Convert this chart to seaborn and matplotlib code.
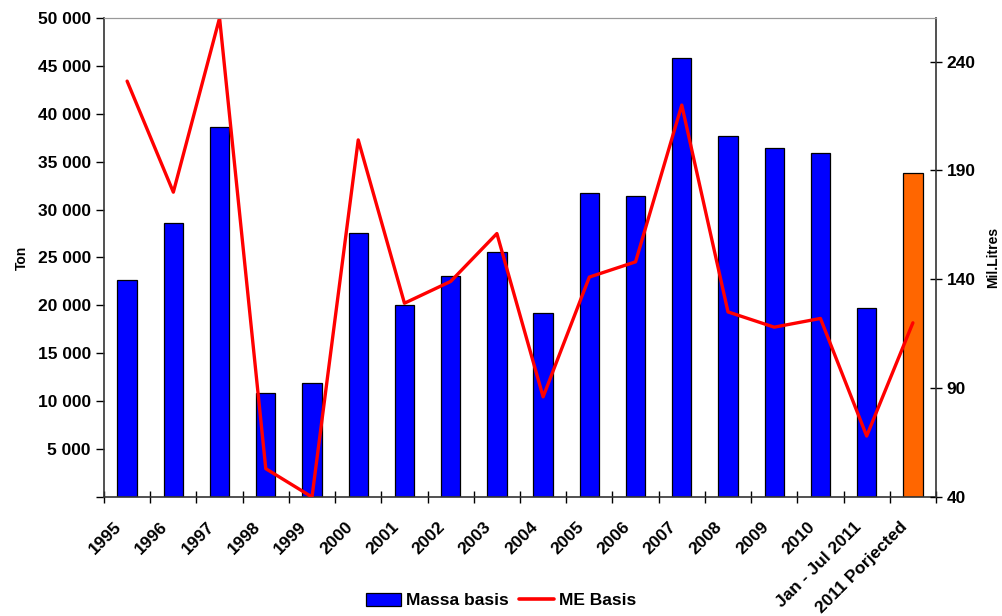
import matplotlib
matplotlib.use("Agg")
import matplotlib.pyplot as plt
import matplotlib.transforms as mtrans
import seaborn as sns
import pandas as pd
import numpy as np
from matplotlib.ticker import FuncFormatter, FixedLocator
from matplotlib.patches import Patch
from matplotlib.lines import Line2D

categories = ["1995", "1996", "1997", "1998", "1999", "2000", "2001", "2002", "2003",
              "2004", "2005", "2006", "2007", "2008", "2009", "2010",
              "Jan - Jul 2011", "2011 Porjected"]
massa_basis = [22600, 28600, 38600, 10900, 11850, 27550, 20000, 23100, 25600,
               19200, 31700, 31400, 45800, 37700, 36400, 35900, 19750, 33800]
me_basis = [231, 180, 260, 53, 40, 204, 129, 139, 161,
            86, 141, 148, 220, 125, 118, 122, 68, 120]
left_ticks = [0, 5000, 10000, 15000, 20000, 25000, 30000, 35000, 40000, 45000, 50000]
right_ticks = [40, 90, 140, 190, 240]

sns.set_style("white")
plt.rcParams['font.family'] = ['Liberation Sans', 'DejaVu Sans']
plt.rcParams['font.weight'] = 'bold'
for k in ["text.color", "axes.labelcolor", "xtick.color", "ytick.color"]:
    plt.rcParams[k] = "black"

fig = plt.figure(figsize=(10.03, 6.16), dpi=100)
ax = fig.add_axes([0.1037, 0.1932, 0.8295, 0.7776])

df = pd.DataFrame({"cat": categories, "val": massa_basis})
colors = ["#0000FF"] * (len(categories) - 1) + ["#FF6600"]
sns.barplot(data=df, x="cat", y="val", hue="cat", palette=colors, legend=False,
            width=0.42, edgecolor="black", linewidth=0.9, ax=ax, saturation=1)

ax.set_xlim(-0.5, len(categories) - 0.5)
ax.set_ylim(0, 50000)
ax.set_yticks(left_ticks)
ax.yaxis.set_major_formatter(FuncFormatter(lambda v, p: "" if v == 0 else f"{int(v):,}".replace(",", " ")))
ax.tick_params(axis="y", direction="out", length=6, width=1, labelsize=12.5, colors="black", left=True)
ax.set_ylabel("Ton", fontsize=10, fontweight="bold", labelpad=6)
ax.set_xlabel("")

ax.set_xticks(range(len(categories)))
ax.set_xticklabels(categories, rotation=45, ha="right", va="center", rotation_mode="anchor",
                   fontsize=12.5, fontweight="bold")
ax.tick_params(axis="x", which="major", length=0, pad=20, bottom=True)
ax.xaxis.set_minor_locator(FixedLocator(np.arange(-0.5, len(categories), 1.0)))
ax.tick_params(axis="x", which="minor", direction="inout", length=8, width=1, bottom=True)
offset = mtrans.ScaledTranslation(-0.08, 0.0, fig.dpi_scale_trans)
for lbl in ax.get_xticklabels():
    lbl.set_transform(lbl.get_transform() + offset)

for s in ["left", "bottom"]:
    ax.spines[s].set_color("#333333")
    ax.spines[s].set_linewidth(1.2)
ax.spines["top"].set_color("#999999")
ax.spines["right"].set_visible(False)

ax2 = ax.twinx()
sns.lineplot(x=np.arange(len(categories)), y=me_basis, ax=ax2, color="#FF0000", linewidth=2.4)
ax2.set_ylim(40, 260)
ax2.set_yticks(right_ticks)
ax2.tick_params(axis="y", direction="inout", length=8, width=1, labelsize=12.5, right=True)
ax2.set_ylabel("Mil.Litres", fontsize=10, fontweight="bold", labelpad=8)
ax2.spines["right"].set_color("#333333")
ax2.spines["right"].set_linewidth(1.2)
ax2.spines["top"].set_color("#999999")
ax2.spines["left"].set_visible(False)
ax2.spines["bottom"].set_visible(False)
ax2.set_xlim(-0.5, len(categories) - 0.5)

handles = [Patch(facecolor="#0000FF", edgecolor="black", linewidth=0.9, label="Massa basis"),
           Line2D([0], [0], color="#FF0000", linewidth=2.6, label="ME Basis")]
fig.legend(handles=handles, loc="center", bbox_to_anchor=(0.5, 0.025), ncol=2, frameon=False,
           handlelength=2.0, handleheight=0.75, columnspacing=0.6, handletextpad=0.3,
           prop={"weight": "bold", "size": 12.5})

fig.savefig("out.png", dpi=100)
